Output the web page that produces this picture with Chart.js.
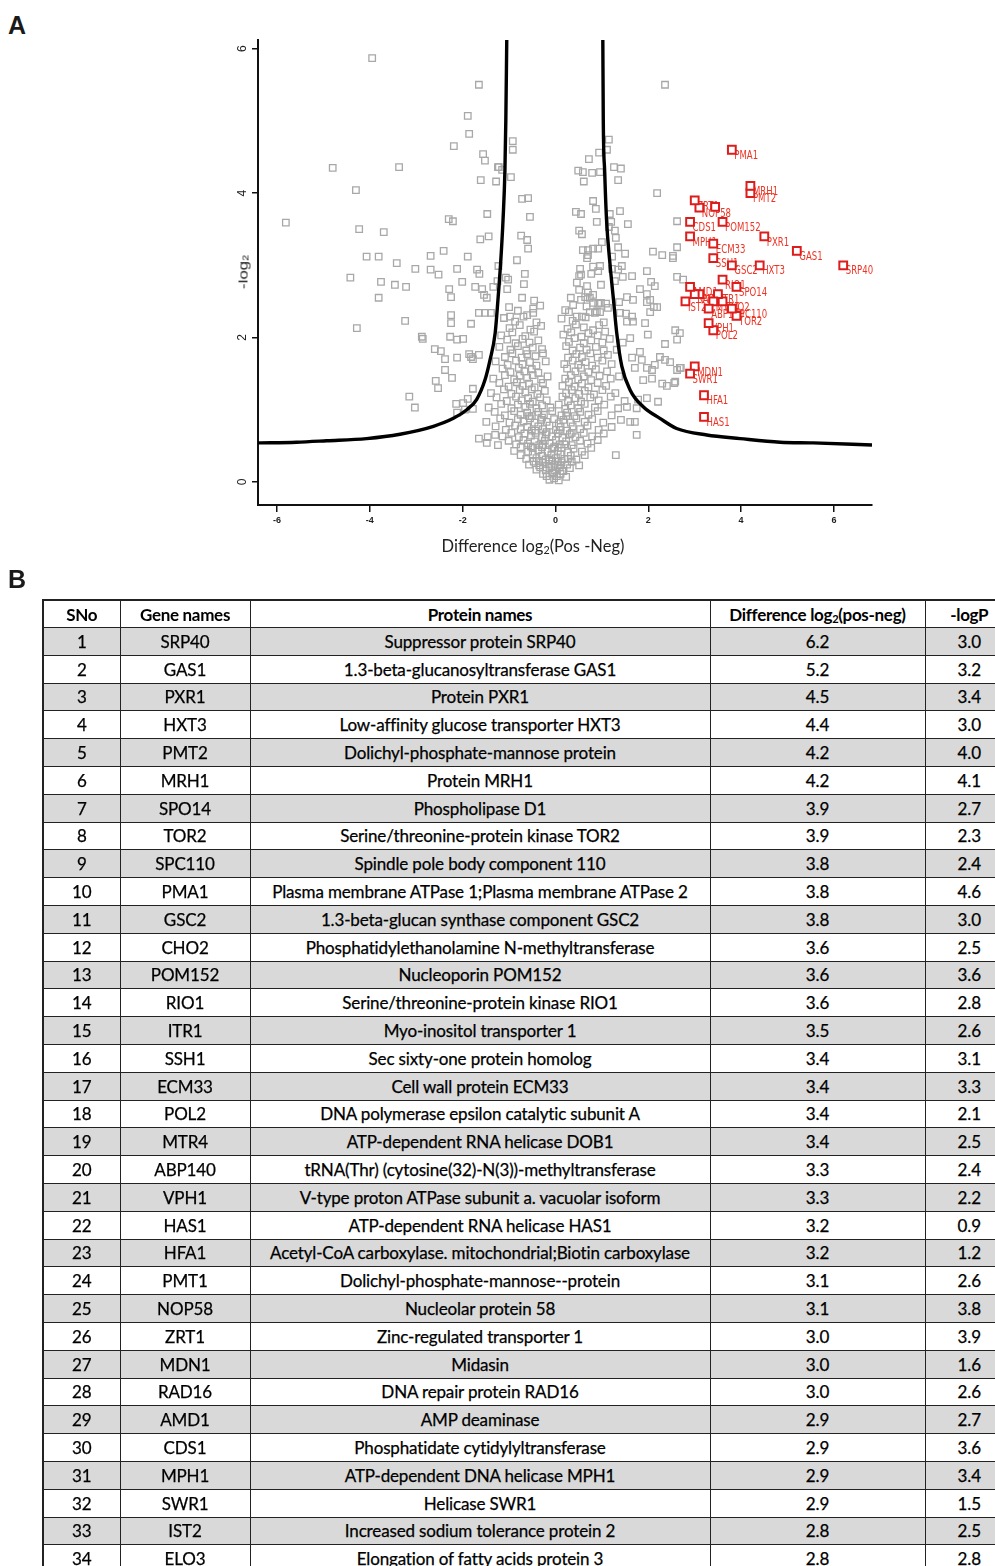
<!DOCTYPE html>
<html>
<head>
<meta charset="utf-8">
<script src="https://cdn.jsdelivr.net/npm/chart.js@4.4.1/dist/chart.umd.min.js"></script>
<style>
  html, body { margin: 0; padding: 0; background: #fff; }
  body { position: relative; width: 995px; height: 1566px; overflow: hidden; }
  .panel { position: absolute; font: bold 25px "Liberation Sans", Arial, sans-serif; color: #1a1a1a; }
  #plot { position: absolute; left: 0; top: 0; }
  #ytitle { position: absolute; left: 243px; top: 272px; white-space: nowrap;
            font: 13px "Liberation Sans", Arial, sans-serif; color: #222;
            transform: translate(-50%, -50%) rotate(-90deg) scaleX(1.3); }
  #xtitle { position: absolute; left: 533px; top: 546px; white-space: nowrap;
            font: 16.5px Lato, "Open Sans", sans-serif; color: #222;
            transform: translate(-50%, -50%); }
  sub { font-size: 65%; vertical-align: -0.15em; line-height: 0; }
  #hits { position: absolute; left: 42px; top: 599px; width: 971px; border-collapse: collapse; table-layout: fixed;
          font: 17px Lato, "Open Sans", sans-serif; color: #000; border: 2px solid #222; }
  #hits td, #hits th { border: 1.5px solid #222; padding: 0; text-align: center; white-space: nowrap; overflow: hidden; line-height: 1; }
  #hits th { font-weight: bold; height: 26px; background: #fff; letter-spacing: -0.3px; }
  #hits td { height: 26.8px; letter-spacing: -0.15px; -webkit-text-stroke: 0.25px #000; }
  #hits tr.shade td { background: #d9d9d9; }
</style>
</head>
<body>
<div class="panel" style="left:8px; top:11px;">A</div>
<canvas id="plot" width="995" height="575"></canvas>
<div id="ytitle">-log<sub>2</sub></div>
<div id="xtitle">Difference log<sub>2</sub>(Pos -Neg)</div>
<div class="panel" style="left:8px; top:565px;">B</div>
<table id="hits">
  <colgroup><col style="width:77px"><col style="width:130px"><col style="width:460px"><col style="width:215px"><col style="width:89px"></colgroup>
  <thead><tr><th>SNo</th><th>Gene names</th><th>Protein names</th><th>Difference log<sub>2</sub>(pos-neg)</th><th>-logP</th></tr></thead>
  <tbody id="hitRows"></tbody>
</table>
<script>
// Axis ticks
const xTickValues = [-6, -4, -2, 0, 2, 4, 6];
const yTickValues = [0, 2, 4, 6];

// Significant hits (table B)
const geneNames = ['SRP40','GAS1','PXR1','HXT3','PMT2','MRH1','SPO14','TOR2','SPC110','PMA1','GSC2','CHO2','POM152','RIO1','ITR1','SSH1','ECM33','POL2','MTR4','ABP140','VPH1','HAS1','HFA1','PMT1','NOP58','ZRT1','MDN1','RAD16','AMD1','CDS1','MPH1','SWR1','IST2','ELO3'];
const proteinNames = [
  'Suppressor protein SRP40',
  '1.3-beta-glucanosyltransferase GAS1',
  'Protein PXR1',
  'Low-affinity glucose transporter HXT3',
  'Dolichyl-phosphate-mannose protein',
  'Protein MRH1',
  'Phospholipase D1',
  'Serine/threonine-protein kinase TOR2',
  'Spindle pole body component 110',
  'Plasma membrane ATPase 1;Plasma membrane ATPase 2',
  '1.3-beta-glucan synthase component GSC2',
  'Phosphatidylethanolamine N-methyltransferase',
  'Nucleoporin POM152',
  'Serine/threonine-protein kinase RIO1',
  'Myo-inositol transporter 1',
  'Sec sixty-one protein homolog',
  'Cell wall protein ECM33',
  'DNA polymerase epsilon catalytic subunit A',
  'ATP-dependent RNA helicase DOB1',
  'tRNA(Thr) (cytosine(32)-N(3))-methyltransferase',
  'V-type proton ATPase subunit a. vacuolar isoform',
  'ATP-dependent RNA helicase HAS1',
  'Acetyl-CoA carboxylase. mitochondrial;Biotin carboxylase',
  'Dolichyl-phosphate-mannose--protein',
  'Nucleolar protein 58',
  'Zinc-regulated transporter 1',
  'Midasin',
  'DNA repair protein RAD16',
  'AMP deaminase',
  'Phosphatidate cytidylyltransferase',
  'ATP-dependent DNA helicase MPH1',
  'Helicase SWR1',
  'Increased sodium tolerance protein 2',
  'Elongation of fatty acids protein 3'
];
const diffValues = [6.2,5.2,4.5,4.4,4.2,4.2,3.9,3.9,3.8,3.8,3.8,3.6,3.6,3.6,3.5,3.4,3.4,3.4,3.4,3.3,3.3,3.2,3.2,3.1,3.1,3.0,3.0,3.0,2.9,2.9,2.9,2.9,2.8,2.8];
const logPValues = [3.0,3.2,3.4,3.0,4.0,4.1,2.7,2.3,2.4,4.6,3.0,2.5,3.6,2.8,2.6,3.1,3.3,2.1,2.5,2.4,2.2,0.9,1.2,2.6,3.8,3.9,1.6,2.6,2.7,3.6,3.4,1.5,2.5,2.8];
// Table rows drawn in grey in the plot
const unmarkedGenes = ['ELO3'];
// Red marker without a legible label
const extraHits = [[3.44, 3.81]];

// Significance threshold curves
const thresholdLeft = [[-6.41,0.54],[-5.58,0.55],[-4.93,0.57],[-4.07,0.60],[-3.35,0.66],[-2.63,0.77],[-2.20,0.88],[-1.91,1.00],[-1.70,1.14],[-1.52,1.41],[-1.41,1.69],[-1.30,2.06],[-1.24,2.52],[-1.18,3.05],[-1.13,3.63],[-1.09,4.30],[-1.07,5.01],[-1.05,6.12]];
const thresholdRight = [[1.02,6.12],[1.03,5.01],[1.06,4.30],[1.10,3.63],[1.17,3.05],[1.25,2.52],[1.32,2.06],[1.43,1.60],[1.61,1.27],[1.89,1.04],[2.25,0.88],[2.61,0.74],[3.26,0.65],[3.98,0.60],[4.84,0.55],[5.55,0.54],[6.82,0.51]];

// All other proteins
const otherProteins = [
  // upper left
  [-3.95,5.87],[-1.65,5.50],[-1.89,5.07],[-1.86,4.82],[-2.19,4.65],[-1.56,4.54],[-1.52,4.45],[-1.24,4.36],[-4.80,4.35],[-3.37,4.36],
  [-4.30,4.04],[-1.61,4.18],[-1.28,4.16],[-5.81,3.59],[-4.23,3.50],[-3.70,3.46],[-2.30,3.64],[-2.21,3.61],[-1.47,3.71],[-1.62,3.36],
  [-1.44,3.40],[-4.07,3.12],[-3.81,3.12],[-3.42,3.03],[-3.02,2.95],[-2.69,3.13],[-2.41,3.20],[-2.69,2.94],[-2.52,2.87],[-2.12,2.95],
  [-1.89,3.12],[-1.69,2.94],[-1.64,2.88],[-4.42,2.83],[-3.76,2.77],[-3.46,2.73],[-3.22,2.70],[-2.29,2.67],[-2.01,2.77],[-1.73,2.70],
  [-1.58,2.67],[-1.34,2.70],[-1.25,2.78],[-1.23,2.99],[-3.81,2.55],[-2.25,2.56],[-1.54,2.59],[-1.48,2.55],
  // upper centre
  [-0.92,4.72],[-0.92,4.60],[-1.22,4.36],[-1.15,4.32],[-0.96,4.22],[-0.72,3.92],[-0.59,3.93],[-0.55,3.67],[-0.74,3.41],[-0.61,3.35],
  [-0.59,3.23],[-0.83,3.07],[-1.07,2.83],[-1.02,2.80],[-1.04,2.67],[-0.66,2.88],[-0.68,2.74],[-0.72,2.55],[-0.46,2.51],[-0.48,2.40],
  [-2.25,2.31],[-0.98,2.29],[-0.61,2.31],[-0.48,2.34],
  // upper right
  [1.15,4.74],[1.11,4.60],[0.72,4.47],[0.94,4.56],[0.49,4.31],[0.59,4.29],[0.79,4.28],[0.96,4.29],[0.61,4.16],[1.26,4.36],
  [1.41,4.34],[1.35,4.18],[2.19,4.00],[0.81,3.89],[0.87,3.78],[0.44,3.74],[0.55,3.71],[0.89,3.60],[1.17,3.71],[1.20,3.60],
  [1.39,3.75],[1.56,3.57],[2.62,3.61],[0.51,3.48],[0.57,3.43],[1.15,3.53],[1.28,3.48],[1.30,3.38],[1.35,3.25],[1.00,3.32],
  [0.59,3.21],[0.70,3.21],[0.81,3.23],[0.92,3.23],[0.70,3.14],[0.68,3.10],[1.22,3.12],[1.50,3.16],[2.10,3.19],[2.30,3.14],
  [2.53,3.13],[2.53,3.10],[2.62,3.25],[2.36,5.50],[0.81,2.98],[0.96,2.99],[0.92,2.92],[0.53,2.95],[0.51,2.85],[0.55,2.87],
  [0.77,2.88],[1.22,2.95],[1.35,2.94],[1.43,2.99],[1.45,2.84],[1.65,2.85],[1.28,2.78],[0.98,2.73],[1.97,2.92],[2.62,2.84],
  [2.75,2.80],[0.46,2.76],[0.51,2.66],[0.68,2.71],[0.70,2.62],[0.81,2.59],[1.82,2.67],[1.97,2.60],[2.06,2.77],[2.14,2.71],
  [0.33,2.55],[0.38,2.45],[0.55,2.52],[0.64,2.56],[0.74,2.55],[0.81,2.48],[0.92,2.47],[0.98,2.48],[1.09,2.47],[1.37,2.49],
  [1.54,2.56],[1.67,2.52],[1.97,2.49],[2.04,2.35],[2.12,2.42],[2.19,2.42],[0.29,2.35],[0.46,2.29],[0.57,2.29],[0.74,2.35],
  [0.85,2.34],[0.96,2.35],[1.52,2.33],[1.65,2.29],
  // lower left
  [-4.28,2.13],[-3.24,2.23],[-2.25,2.20],[-1.65,2.34],[-1.52,2.34],[-1.39,2.34],[-1.82,2.19],[-2.88,2.01],[-2.86,1.98],[-2.27,2.01],
  [-2.12,1.97],[-1.99,1.98],[-2.60,1.84],[-2.47,1.81],[-2.38,1.70],[-2.12,1.72],[-1.86,1.77],[-1.82,1.73],[-1.78,1.70],[-1.65,1.76],
  [-2.38,1.55],[-2.23,1.44],[-2.58,1.40],[-2.53,1.30],[-3.15,1.18],[-3.03,1.03],[-1.78,1.29],[-2.14,1.08],[-1.99,1.09],[-1.89,1.15],
  [-2.12,0.96],[-1.95,1.00],[-1.78,1.01],[-1.65,0.60],[-1.48,0.54],[-1.24,0.51],[-1.46,0.62],[-1.30,0.65],
  // lower right
  [2.04,2.52],[1.93,2.20],[1.67,2.22],[1.54,2.22],[1.39,2.34],[1.99,2.04],[2.58,2.10],[2.68,2.06],[2.62,1.97],[2.36,1.91],
  [1.82,1.80],[1.86,1.69],[1.61,1.99],[1.45,1.93],[1.32,1.83],[1.65,1.72],[1.71,1.58],[2.25,1.73],[2.36,1.69],[2.47,1.66],
  [2.68,1.58],[2.62,1.55],[2.14,1.62],[2.08,1.55],[1.97,1.58],[1.89,1.41],[2.08,1.43],[2.30,1.36],[2.40,1.33],[2.56,1.37],
  [1.78,1.14],[1.97,1.16],[2.21,1.11],[1.75,1.02],[1.54,1.04],[1.71,0.83],[1.61,0.83],[1.75,0.65],[1.30,0.37],[2.58,1.39],[2.70,1.58],
  // central cloud
  [-1.00,2.42],[-0.81,2.37],[-0.33,2.44],[0.21,2.38],[0.67,2.43],[0.89,2.36],[1.13,2.41],
  [-1.11,2.27],[-0.87,2.22],[-0.69,2.29],[-0.41,2.21],[0.13,2.26],[0.37,2.23],[0.65,2.28],[1.04,2.21],
  [-0.99,2.13],[-0.77,2.17],[-0.54,2.11],[-0.31,2.16],[0.26,2.12],[0.44,2.18],[0.61,2.14],[0.81,2.10],[0.94,2.17],
  [-1.17,2.03],[-0.93,2.07],[-0.65,2.02],[-0.46,2.08],[0.17,2.04],[0.34,2.07],[0.56,2.01],[0.71,2.06],[0.91,2.03],[1.07,2.08],
  [-1.04,1.97],[-0.86,1.92],[-0.71,1.98],[-0.56,1.93],[-0.37,1.96],[0.29,1.94],[0.41,1.99],[0.61,1.92],[0.77,1.96],[1.01,1.93],[1.17,1.98],
  [-1.21,1.87],[-0.97,1.83],[-0.81,1.88],[-0.63,1.82],[-0.49,1.86],[-0.29,1.84],[0.23,1.88],[0.37,1.82],[0.53,1.86],[0.67,1.83],[0.87,1.87],[1.04,1.82],
  [-1.09,1.73],[-0.93,1.78],[-0.73,1.72],[-0.61,1.77],[-0.43,1.74],[-0.27,1.78],[0.27,1.72],[0.45,1.77],[0.57,1.73],[0.75,1.78],[0.91,1.72],[1.13,1.76],
  [-1.29,1.67],[-1.03,1.62],[-0.85,1.68],[-0.71,1.63],[-0.55,1.66],[-0.41,1.61],[-0.21,1.67],[0.19,1.63],[0.37,1.68],[0.49,1.62],[0.65,1.66],[0.79,1.61],[1.01,1.68],[1.21,1.63],
  [-1.14,1.57],[-0.97,1.52],[-0.79,1.58],[-0.67,1.53],[-0.51,1.56],[-0.37,1.51],[0.25,1.57],[0.43,1.53],[0.55,1.58],[0.71,1.52],[0.87,1.56],[1.11,1.53],
  [-1.34,1.43],[-1.09,1.48],[-0.89,1.42],[-0.77,1.47],[-0.61,1.44],[-0.49,1.48],[-0.31,1.42],[-0.17,1.46],[0.21,1.43],[0.33,1.48],[0.49,1.42],[0.61,1.46],[0.77,1.41],[0.95,1.47],[1.19,1.43],[1.37,1.46],
  [-1.21,1.37],[-1.01,1.32],[-0.83,1.38],[-0.71,1.33],[-0.57,1.36],[-0.45,1.31],[-0.27,1.37],[0.15,1.33],[0.29,1.38],[0.41,1.32],[0.57,1.36],[0.71,1.31],[0.91,1.37],[1.09,1.33],
  [-1.39,1.23],[-1.11,1.28],[-0.95,1.22],[-0.77,1.27],[-0.65,1.24],[-0.51,1.28],[-0.39,1.22],[-0.23,1.26],[0.23,1.23],[0.35,1.27],[0.51,1.22],[0.63,1.26],[0.83,1.21],[1.01,1.27],[1.29,1.23],
  [-1.27,1.17],[-1.05,1.12],[-0.85,1.18],[-0.73,1.13],[-0.59,1.16],[-0.49,1.11],[-0.33,1.17],[-0.19,1.13],[0.15,1.18],[0.27,1.12],[0.43,1.16],[0.55,1.11],[0.75,1.17],[0.93,1.13],[1.19,1.18],[1.49,1.12],
  [-1.44,1.03],[-1.17,1.08],[-0.95,1.02],[-0.81,1.07],[-0.65,1.04],[-0.55,1.08],[-0.41,1.02],[-0.29,1.06],[-0.11,1.03],[0.07,1.07],[0.21,1.01],[0.33,1.06],[0.49,1.02],[0.63,1.08],[0.85,1.03],[1.05,1.07],[1.35,1.02],
  [-1.31,0.97],[-1.09,0.92],[-0.89,0.98],[-0.75,0.93],[-0.61,0.96],[-0.51,0.91],[-0.37,0.97],[-0.25,0.93],[-0.07,0.98],[0.13,0.92],[0.25,0.96],[0.41,0.91],[0.53,0.97],[0.71,0.93],[0.91,0.98],[1.21,0.92],
  [-1.49,0.83],[-1.19,0.88],[-0.99,0.82],[-0.81,0.87],[-0.69,0.84],[-0.55,0.88],[-0.45,0.82],[-0.31,0.86],[-0.19,0.83],[-0.03,0.87],[0.07,0.81],[0.17,0.86],[0.33,0.82],[0.45,0.88],[0.63,0.83],[0.79,0.87],[1.03,0.82],[1.41,0.86],
  [-1.29,0.77],[-1.07,0.72],[-0.87,0.78],[-0.75,0.73],[-0.61,0.76],[-0.51,0.71],[-0.37,0.77],[-0.27,0.73],[-0.13,0.78],[0.01,0.72],[0.11,0.76],[0.25,0.71],[0.37,0.77],[0.53,0.73],[0.69,0.78],[0.93,0.72],[1.21,0.76],
  [-1.14,0.63],[-0.95,0.68],[-0.79,0.62],[-0.67,0.67],[-0.53,0.64],[-0.43,0.68],[-0.29,0.62],[-0.21,0.66],[-0.07,0.63],[0.05,0.67],[0.15,0.61],[0.31,0.66],[0.43,0.62],[0.61,0.68],[0.79,0.63],[1.04,0.67],
  [-1.01,0.57],[-0.85,0.52],[-0.69,0.58],[-0.59,0.53],[-0.45,0.56],[-0.35,0.51],[-0.23,0.57],[-0.13,0.53],[0.01,0.58],[0.09,0.52],[0.23,0.56],[0.35,0.51],[0.53,0.57],[0.69,0.53],[0.91,0.58],
  [-0.89,0.43],[-0.75,0.48],[-0.59,0.42],[-0.49,0.47],[-0.37,0.44],[-0.29,0.48],[-0.17,0.42],[-0.07,0.46],[0.05,0.43],[0.13,0.47],[0.27,0.41],[0.39,0.46],[0.57,0.42],[0.77,0.47],
  [-0.75,0.37],[-0.63,0.32],[-0.49,0.38],[-0.41,0.33],[-0.29,0.36],[-0.21,0.31],[-0.09,0.37],[0.01,0.33],[0.11,0.38],[0.19,0.32],[0.33,0.36],[0.45,0.31],[0.63,0.37],
  [-0.57,0.24],[-0.47,0.28],[-0.35,0.23],[-0.27,0.27],[-0.15,0.25],[-0.07,0.29],[0.05,0.23],[0.13,0.27],[0.25,0.24],[0.35,0.28],[0.51,0.23],
  [-0.41,0.17],[-0.33,0.20],[-0.21,0.16],[-0.13,0.19],[-0.01,0.16],[0.09,0.20],[0.17,0.15],[0.31,0.19],
  [-0.27,0.11],[-0.19,0.08],[-0.07,0.12],[0.03,0.08],[0.11,0.11],[0.23,0.07],
  [-0.13,0.03],[-0.03,0.05],[0.07,0.02],
  [-0.44,0.71],[-0.19,0.69],[0.09,0.72],[0.35,0.68],[-0.53,0.49],[-0.27,0.51],[-0.03,0.48],[0.19,0.52],
  [-0.36,0.29],[-0.13,0.31],[0.05,0.28],[0.27,0.32],[-0.57,0.91],[-0.29,0.89],[0.23,0.91],[-0.09,0.21],[0.11,0.23],[-0.05,0.13],[0.15,0.15]
];

// ---- table B ----
const tbody = document.getElementById('hitRows');
geneNames.forEach((g, i) => {
  const tr = document.createElement('tr');
  if (i % 2 === 0) tr.className = 'shade';
  [String(i + 1), g, proteinNames[i], diffValues[i].toFixed(1), logPValues[i].toFixed(1)].forEach(t => {
    const td = document.createElement('td');
    td.textContent = t;
    tr.appendChild(td);
  });
  tbody.appendChild(tr);
});

// ---- volcano plot ----
const hitPoints = [];
geneNames.forEach((g, i) => {
  if (!unmarkedGenes.includes(g)) hitPoints.push({ x: diffValues[i], y: logPValues[i], label: g });
});
extraHits.forEach(p => hitPoints.push({ x: p[0], y: p[1], label: '' }));

const toXY = arr => arr.map(p => ({ x: p[0], y: p[1] }));

// draws gene labels just before the red markers so the markers sit on top
const hitLabels = {
  id: 'hitLabels',
  beforeDatasetDraw(chart, args) {
    if (args.index !== 0) return;
    const ctx = chart.ctx;
    const meta = chart.getDatasetMeta(0);
    ctx.save();
    ctx.fillStyle = '#ee3324';
    ctx.font = '9.5px "Liberation Sans Narrow", "DejaVu Sans Condensed", sans-serif';
    ctx.textAlign = 'left';
    ctx.textBaseline = 'middle';
    meta.data.forEach((el, i) => {
      const lbl = hitPoints[i].label;
      if (!lbl) return;
      ctx.save();
      ctx.translate(el.x + 2.5, el.y + 6);
      ctx.scale(1, 1.3);
      ctx.fillText(lbl, 0, 0);
      ctx.restore();
    });
    ctx.restore();
  }
};

new Chart(document.getElementById('plot'), {
  type: 'scatter',
  data: {
    datasets: [
      { label: 'hits', data: hitPoints, pointStyle: 'rect', pointRadius: 5.5, pointBorderWidth: 2,
        borderColor: '#dd1c1c', backgroundColor: '#ffffff', order: 0 },
      { label: 'threshold left', data: toXY(thresholdLeft), showLine: true, borderColor: '#000', borderWidth: 3.4,
        pointRadius: 0, cubicInterpolationMode: 'monotone', order: 1 },
      { label: 'threshold right', data: toXY(thresholdRight), showLine: true, borderColor: '#000', borderWidth: 3.4,
        pointRadius: 0, cubicInterpolationMode: 'monotone', order: 1 },
      { label: 'proteins', data: toXY(otherProteins), pointStyle: 'rect', pointRadius: 4.6, pointBorderWidth: 1.3,
        borderColor: '#a8a8a8', backgroundColor: 'rgba(0,0,0,0)', order: 2 }
    ]
  },
  options: {
    responsive: false,
    animation: false,
    events: [],
    layout: { padding: { top: 40, right: 123, left: 0, bottom: 0 } },
    plugins: { legend: { display: false }, tooltip: { enabled: false } },
    scales: {
      x: {
        type: 'linear', min: -6.41, max: 6.82,
        afterFit(s) { s.height = 70; },
        afterBuildTicks(s) { s.ticks = xTickValues.map(v => ({ value: v })); },
        grid: { drawOnChartArea: false, drawTicks: true, tickLength: 7, color: '#111', lineWidth: 1.5 },
        border: { display: true, color: '#111', width: 2 },
        ticks: { autoSkip: false, maxRotation: 0, padding: 3, color: '#222',
                 font: { family: '"Liberation Sans Narrow", "Liberation Sans", sans-serif', size: 9, weight: 'bold' } }
      },
      y: {
        type: 'linear', min: -0.32, max: 6.12,
        afterFit(s) { s.width = 258; },
        afterBuildTicks(s) { s.ticks = yTickValues.map(v => ({ value: v })); },
        grid: { drawOnChartArea: false, drawTicks: true, tickLength: 6, color: '#111', lineWidth: 1.5 },
        border: { display: true, color: '#111', width: 2 },
        ticks: { autoSkip: false, minRotation: 90, maxRotation: 90, crossAlign: 'center', padding: 6, color: '#222',
                 font: { family: '"Liberation Sans", Arial, sans-serif', size: 12 } }
      }
    }
  },
  plugins: [hitLabels]
});
</script>
</body>
</html>
